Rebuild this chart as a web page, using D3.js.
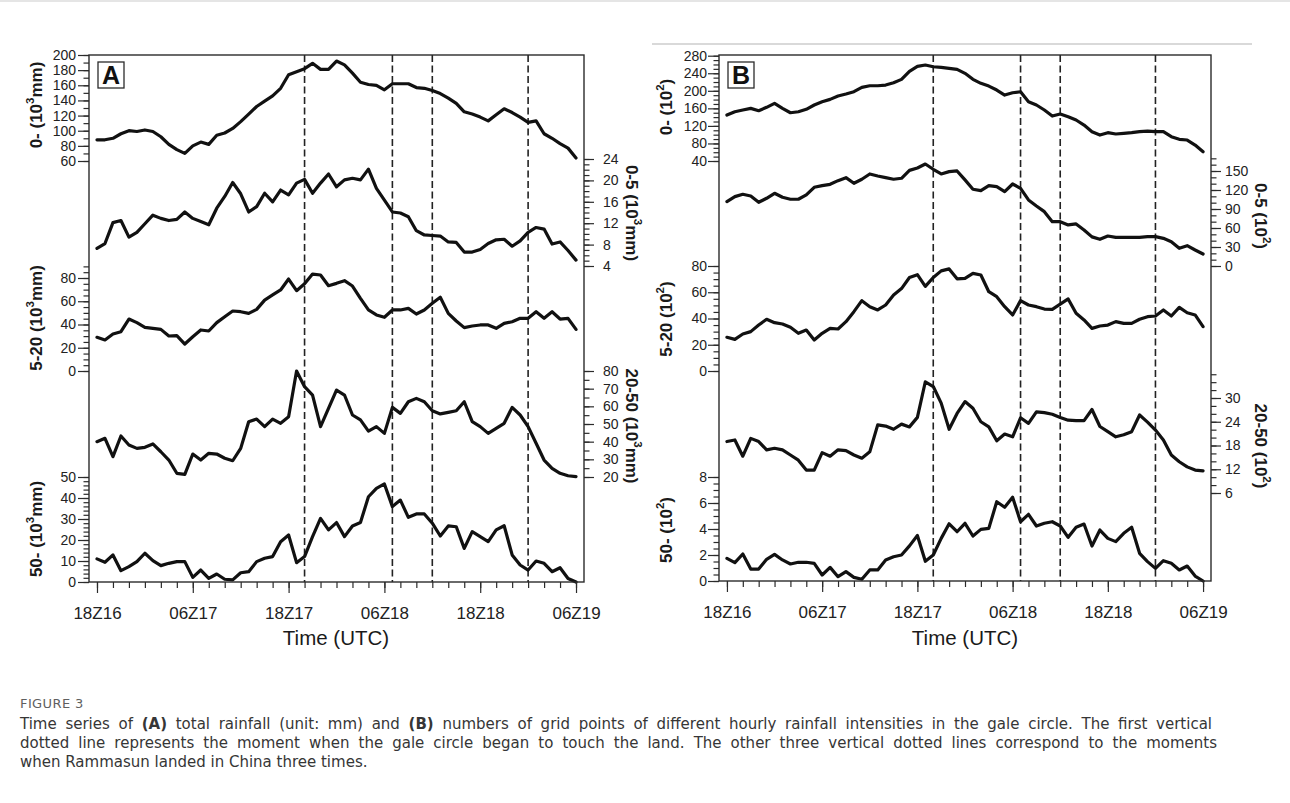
<!DOCTYPE html>
<html>
<head>
<meta charset="utf-8">
<script src="https://cdn.jsdelivr.net/npm/d3@7"></script>
<style>
  html, body { margin: 0; padding: 0; background: #fff; }
  svg { display: block; }
</style>
</head>
<body>
<svg id="fig" width="1290" height="803"></svg>
<script>
// ---- time axis (hours since 18Z16, hourly samples) ----
const hours = d3.range(0, 61);
const timeTickHours = [0, 12, 24, 36, 48, 60];
const timeTickLabels = ["18Z16", "06Z17", "18Z17", "06Z18", "18Z18", "06Z19"];
const eventHours = [26, 37, 42, 54]; // gale circle touches land, then three landfalls

// ---- (A) total rainfall, 10^3 mm ----
const rainAll = [88, 88, 90, 96, 100, 99, 101, 99, 92, 82, 75, 70, 80, 85, 82, 94, 97, 103, 112, 122,
  132, 139, 146, 156, 174, 178, 182, 189, 181, 181, 192, 187, 176, 164, 161, 160, 154, 162, 162, 162,
  157, 156, 153, 149, 143, 136, 125, 122, 118, 113, 121, 129, 124, 118, 111, 113, 96, 90, 83, 77, 64];
const rain0to5 = [7.3, 8.2, 12.1, 12.5, 9.4, 10.3, 11.9, 13.5, 12.9, 12.5, 12.7, 14.1, 12.9, 12.3, 11.7, 14.8, 17.0, 19.6, 17.5, 14.1,
  15.1, 17.6, 16.0, 18.2, 17.3, 19.5, 20.2, 17.6, 19.5, 21.2, 18.8, 20.1, 20.4, 20.1, 22.1, 18.5, 16.3, 14.1, 13.9, 13.2,
  10.6, 9.8, 9.7, 9.6, 8.5, 8.4, 6.6, 6.6, 7.1, 8.2, 8.9, 9.0, 7.7, 8.7, 10.3, 11.2, 10.9, 8.1, 8.5, 6.9, 5.1];
const rain5to20 = [29, 26.7, 31.8, 33.8, 44.7, 41.6, 37.6, 36.7, 35.8, 30.1, 30.4, 23.2, 29.5, 35.3, 34.4, 41.6, 46.7, 51.6, 51, 49.6,
  53, 61, 65.4, 69.7, 79.1, 69.1, 75, 83.4, 82.6, 73.4, 75.4, 77.7, 73.1, 62.5, 52.5, 48.2, 46.2, 52.5, 52.5, 53.9,
  49, 52.5, 58.2, 63.4, 49.6, 43, 37.3, 38.7, 39.6, 39.6, 36.7, 41, 42.4, 45.3, 45.3, 51, 45.3, 51, 44.7, 45.3, 35.8];
const rain20to50 = [40, 41.9, 31.5, 43.2, 38.1, 36.2, 36.8, 38.7, 34.3, 29.6, 22.1, 21.5, 33, 29.6, 33.4, 33, 30.6, 29.2, 36.2, 51.3,
  52.8, 48.5, 52.8, 50.4, 54.1, 80, 71.1, 66.4, 48.5, 58.9, 69.2, 66.4, 55.1, 52.3, 46, 48.5, 44.7, 59.4, 56, 62.6,
  64.5, 62.6, 57.5, 55.7, 56.6, 57.5, 62.6, 51.3, 48.5, 44.7, 47.5, 50.4, 59.4, 55.1, 48.5, 39.1, 29.6, 24.9, 22.1, 20.7, 20.2];
const rainOver50 = [11, 9.4, 12.9, 5.4, 7.3, 9.7, 13.7, 10.2, 7.8, 8.9, 9.7, 9.7, 2.2, 5.7, 1.7, 3.8, 1.3, 1, 4.4, 4.9,
  9.7, 11.3, 12.1, 19.2, 22.4, 9.2, 12.1, 21.6, 30.3, 24.8, 28.3, 21.6, 26.7, 28.3, 40.6, 44.6, 46.7, 35.9, 39, 30.8,
  32.4, 32.4, 28, 21.9, 26.7, 26.3, 16, 24, 21.6, 19.2, 24.8, 26.8, 12.9, 8.1, 5.7, 10, 8.9, 4.9, 6.8, 1.7, 0];

// ---- (B) number of grid points, 10^2 ----
const gridAll = [144.8, 152.3, 156.2, 160, 154.6, 162.3, 171.4, 160, 150, 152.3, 157.8, 167.6, 175.1, 180.5, 188.1, 192.6, 197.9, 207.9, 211.5, 211.5,
  213.1, 218.4, 226.1, 244.5, 255.6, 258.7, 254.8, 253.3, 251.2, 248.9, 239.8, 226.1, 217, 210.8, 201.7, 190.3, 195.6, 197.9, 175.1, 167.6,
  156.2, 142.5, 147.1, 140.9, 133.4, 122, 106.8, 99.2, 104.5, 101.5, 103, 104.5, 106.8, 108.3, 106.8, 106.8, 95.4, 89.4, 87.8, 76.4, 61.2];
const grid0to5 = [101.6, 109.5, 113.2, 110.6, 100.6, 106.9, 114.8, 108.5, 105.4, 105.4, 112.2, 124.3, 126.9, 129, 134.8, 139.5, 130.6, 137, 145.3, 142.2,
  139.5, 137, 138.5, 151, 154.8, 161, 152.7, 145.3, 149, 150.1, 135.9, 121.2, 119, 126.9, 125.3, 117.4, 129.5, 122.7, 104.3, 94.8,
  85.8, 70, 70, 64.8, 66.4, 56.9, 46, 42.1, 47.4, 45.3, 45.3, 45.3, 45.3, 46.3, 46.3, 43.7, 38.4, 27.9, 32.1, 25.3, 19];
const grid5to20 = [25.7, 24.1, 28.2, 30, 35, 39.4, 36.8, 35.8, 33.3, 28.7, 31.2, 23.6, 28.7, 32.5, 32, 37.6, 45.2, 53.6, 49, 46.5,
  50.3, 57.9, 62.8, 71.2, 73.4, 64.5, 71.2, 76.3, 77.8, 70.2, 70.6, 74.4, 73.1, 60.4, 56.6, 49, 42.7, 53.6, 50.3, 49,
  47.2, 47, 51, 54.9, 44, 38.9, 32.5, 34.3, 35, 37.6, 36.3, 36.3, 39.4, 41.4, 41.9, 46.5, 41.9, 48.5, 44.4, 42.7, 33.8];
const grid20to50 = [19, 19.4, 15.3, 19.8, 19, 16.9, 17.3, 16.9, 15.6, 14.3, 11.8, 11.8, 16.2, 15.3, 16.9, 16.7, 15.6, 14.8, 16.4, 23.2,
  22.9, 22.1, 23.4, 22.7, 25.1, 34.1, 32.9, 28.7, 22.1, 26.1, 29.1, 27.4, 24, 22.7, 19.2, 20.9, 20.2, 25, 23.6, 26.5,
  26.3, 25.9, 25.1, 24.4, 24.3, 24.3, 27.1, 22.8, 21.5, 20.2, 20.7, 21.5, 25.7, 23.9, 21.9, 19.4, 15.6, 13.9, 12.6, 11.8, 11.6];
const gridOver50 = [1.74, 1.41, 2.08, 0.92, 0.92, 1.67, 2.05, 1.62, 1.31, 1.44, 1.44, 1.36, 0.46, 1.05, 0.33, 0.72, 0.28, 0.13, 0.85, 0.85,
  1.62, 1.87, 2, 2.7, 3.5, 1.52, 2, 3.28, 4.4, 3.79, 4.44, 3.46, 3.97, 4.05, 6.1, 5.67, 6.44, 4.56, 5.13, 4.23,
  4.44, 4.56, 4.23, 3.36, 4.13, 4.38, 2.69, 3.92, 3.28, 3.03, 3.67, 4.13, 2.13, 1.49, 0.97, 1.56, 1.36, 0.85, 1.15, 0.38, 0];

// ---- layout of the two panels and their stacked y axes ----
const panels = [
  {
    tag: "A", left: 89, right: 584, top: 55, bottom: 582,
    padL: 2, padR: 9, titleXL: 36, titleXR: 632, timeTitleX: 336,
    axes: [
      { data: rainAll,    side: "left",  domain: [60, 200], range: [161, 55],  major: [60, 200, 20], minor: [60, 200, 10], title: ["0- (10", "3", "mm)"],   titleY: 105 },
      { data: rain0to5,   side: "right", domain: [4, 24],   range: [266, 159], major: [4, 24, 4],    minor: [4, 24, 1],    title: ["0-5 (10", "3", "mm)"],  titleY: 213 },
      { data: rain5to20,  side: "left",  domain: [0, 80],   range: [371, 278], major: [0, 80, 20],   minor: [0, 90, 5],    title: ["5-20 (10", "3", "mm)"], titleY: 318 },
      { data: rain20to50, side: "right", domain: [20, 80],  range: [477, 371], major: [20, 80, 10],  minor: [20, 80, 5],   title: ["20-50 (10", "3", "mm)"], titleY: 426 },
      { data: rainOver50, side: "left",  domain: [0, 50],   range: [582, 477], major: [0, 50, 10],   minor: [0, 50, 2],    title: ["50- (10", "3", "mm)"],  titleY: 529 }
    ]
  },
  {
    tag: "B", left: 719, right: 1211, top: 55, bottom: 581,
    padL: 1, padR: 4, titleXL: 666, titleXR: 1261, timeTitleX: 965,
    axes: [
      { data: gridAll,    side: "left",  domain: [40, 280], range: [161, 55.7], major: [40, 280, 40], minor: [40, 280, 10], title: ["0- (10", "2", ")"],    titleY: 107 },
      { data: grid0to5,   side: "right", domain: [0, 150],  range: [266, 171],  major: [0, 150, 30],  minor: [0, 170, 10],  title: ["0-5 (10", "2", ")"],   titleY: 216 },
      { data: grid5to20,  side: "left",  domain: [0, 80],   range: [371, 266],  major: [0, 80, 20],   minor: [0, 80, 5],    title: ["5-20 (10", "2", ")"],  titleY: 319 },
      { data: grid20to50, side: "right", domain: [6, 30],   range: [493, 398],  major: [6, 30, 6],    minor: [6, 36, 2],    title: ["20-50 (10", "2", ")"], titleY: 446 },
      { data: gridOver50, side: "left",  domain: [0, 8],    range: [581, 477],  major: [0, 8, 2],     minor: [0, 8, 0.5],   title: ["50- (10", "2", ")"],   titleY: 530 }
    ]
  }
];

const FONT = "'Liberation Sans', Arial, Helvetica, sans-serif";
const INK = "#111";
const AXIS = "#2b2b2b";

const svg = d3.select("#fig");
svg.append("rect").attr("width", 1290).attr("height", 803).attr("fill", "#fff");

// page rules
svg.append("line").attr("x1", 0).attr("x2", 1290).attr("y1", 1).attr("y2", 1)
  .attr("stroke", "#dcdcdc").attr("stroke-width", 1.5);
svg.append("line").attr("x1", 652).attr("x2", 1252).attr("y1", 44).attr("y2", 44)
  .attr("stroke", "#d9d9d9").attr("stroke-width", 2);

function styleAxis(g) {
  g.select(".domain").remove();
  g.selectAll(".tick line").attr("stroke", AXIS).attr("stroke-width", 1.2);
  g.selectAll(".tick text").attr("fill", "#222").attr("font-family", FONT);
}

function rotatedTitle(parent, parts, x, y, angle) {
  const t = parent.append("text")
    .attr("transform", `translate(${x},${y}) rotate(${angle})`)
    .attr("text-anchor", "middle")
    .attr("dominant-baseline", "central")
    .attr("font-family", FONT).attr("font-weight", "bold").attr("font-size", 17)
    .attr("fill", "#1a1a1a");
  t.append("tspan").text(parts[0]);
  t.append("tspan").attr("font-size", 11.5).attr("dy", -6).text(parts[1]);
  t.append("tspan").attr("dy", 6).text(parts[2]);
}

panels.forEach(p => {
  const g = svg.append("g");
  const x = d3.scaleLinear().domain([-1, 61]).range([p.left, p.right]);

  // event markers
  g.selectAll("line.event").data(eventHours).join("line")
    .attr("class", "event")
    .attr("x1", d => x(d)).attr("x2", d => x(d))
    .attr("y1", p.top).attr("y2", p.bottom)
    .attr("stroke", "#222").attr("stroke-width", 1.6)
    .attr("stroke-dasharray", "7,3.5");

  // stacked series and their axes
  p.axes.forEach(ax => {
    const y = d3.scaleLinear().domain(ax.domain).range(ax.range);
    const isLeft = ax.side === "left";
    const axisFn = isLeft ? d3.axisLeft : d3.axisRight;
    const xPos = isLeft ? p.left : p.right;
    const minorVals = d3.range(ax.minor[0], ax.minor[1] + 1e-9, ax.minor[2]);
    const majorVals = d3.range(ax.major[0], ax.major[1] + 1e-9, ax.major[2]);

    const gMinor = g.append("g").attr("transform", `translate(${xPos},0)`)
      .call(axisFn(y).tickValues(minorVals).tickSize(5.5).tickFormat(""));
    styleAxis(gMinor);

    const gMajor = g.append("g").attr("transform", `translate(${xPos},0)`)
      .call(axisFn(y).tickValues(majorVals).tickSize(isLeft ? 11 : 10)
        .tickPadding(isLeft ? p.padL : p.padR).tickFormat(d3.format("d")));
    styleAxis(gMajor);
    gMajor.selectAll(".tick text").attr("font-size", 14);

    const line = d3.line().x((d, i) => x(hours[i])).y(d => y(d));
    g.append("path").datum(ax.data)
      .attr("d", line)
      .attr("fill", "none").attr("stroke", INK)
      .attr("stroke-width", 3.2)
      .attr("stroke-linejoin", "round").attr("stroke-linecap", "round");

    rotatedTitle(g, ax.title, isLeft ? p.titleXL : p.titleXR, ax.titleY, isLeft ? -90 : 90);
  });

  // time axis
  const minorHours = d3.range(0, 61, 2);
  const gxMinor = g.append("g").attr("transform", `translate(0,${p.bottom})`)
    .call(d3.axisBottom(x).tickValues(minorHours).tickSize(6).tickFormat(""));
  styleAxis(gxMinor);
  const gx = g.append("g").attr("transform", `translate(0,${p.bottom})`)
    .call(d3.axisBottom(x).tickValues(timeTickHours).tickSize(11)
      .tickFormat((d, i) => timeTickLabels[i]));
  styleAxis(gx);
  gx.selectAll(".tick text").attr("font-size", 17).attr("dy", null).attr("y", 37);

  g.append("text")
    .attr("x", p.timeTitleX).attr("y", 645)
    .attr("text-anchor", "middle")
    .attr("font-family", FONT).attr("font-size", 20.5).attr("fill", "#1a1a1a")
    .text("Time (UTC)");

  // frame
  g.append("rect")
    .attr("x", p.left).attr("y", p.top)
    .attr("width", p.right - p.left).attr("height", p.bottom - p.top)
    .attr("fill", "none").attr("stroke", AXIS).attr("stroke-width", 1.4);

  // panel tag
  g.append("rect").attr("x", p.left + 9).attr("y", p.top + 7)
    .attr("width", 26).attr("height", 26)
    .attr("fill", "#fff").attr("stroke", AXIS).attr("stroke-width", 1.3);
  g.append("text").attr("x", p.left + 22).attr("y", p.top + 29)
    .attr("text-anchor", "middle")
    .attr("font-family", FONT).attr("font-weight", "bold").attr("font-size", 25)
    .attr("fill", "#111").text(p.tag);
});

// ---- caption ----
const CAP_FONT = "'DejaVu Sans', 'Noto Sans', Arial, sans-serif";
const cap = svg.append("g").attr("font-family", CAP_FONT).attr("fill", "#363636");

cap.append("text").attr("x", 20).attr("y", 708)
  .attr("font-size", 13).attr("fill", "#5f5f5f").attr("letter-spacing", 0.4)
  .text("FIGURE 3");

const captionLines = [
  [["Time series of ", false], ["(A)", true], [" total rainfall (unit: mm) and ", false], ["(B)", true],
   [" numbers of grid points of different hourly rainfall intensities in the gale circle. The first vertical", false]],
  [["dotted line represents the moment when the gale circle began to touch the land. The other three vertical dotted lines correspond to the moments", false]],
  [["when Rammasun landed in China three times.", false]]
];
const capBaselines = [729, 748, 767];
const capRightEdge = [1212, 1217, null]; // justified lines end at the column edge

const capTexts = captionLines.map((parts, i) => {
  const t = cap.append("text").attr("x", 20).attr("y", capBaselines[i]).attr("font-size", 14);
  parts.forEach(([s, b]) => t.append("tspan").attr("font-weight", b ? "bold" : null).text(s));
  return t;
});
// pick a size that nearly fills the column, then justify the full lines
const capSize = Math.min(15, 14 * 1180 / capTexts[0].node().getComputedTextLength());
capTexts.forEach((t, i) => {
  t.attr("font-size", capSize);
  if (capRightEdge[i] !== null) {
    const natural = t.node().getComputedTextLength();
    const gaps = captionLines[i].map(d => d[0]).join("").split(" ").length - 1;
    t.attr("word-spacing", Math.max(0, capRightEdge[i] - 20 - natural) / gaps);
  }
});
</script>
</body>
</html>
